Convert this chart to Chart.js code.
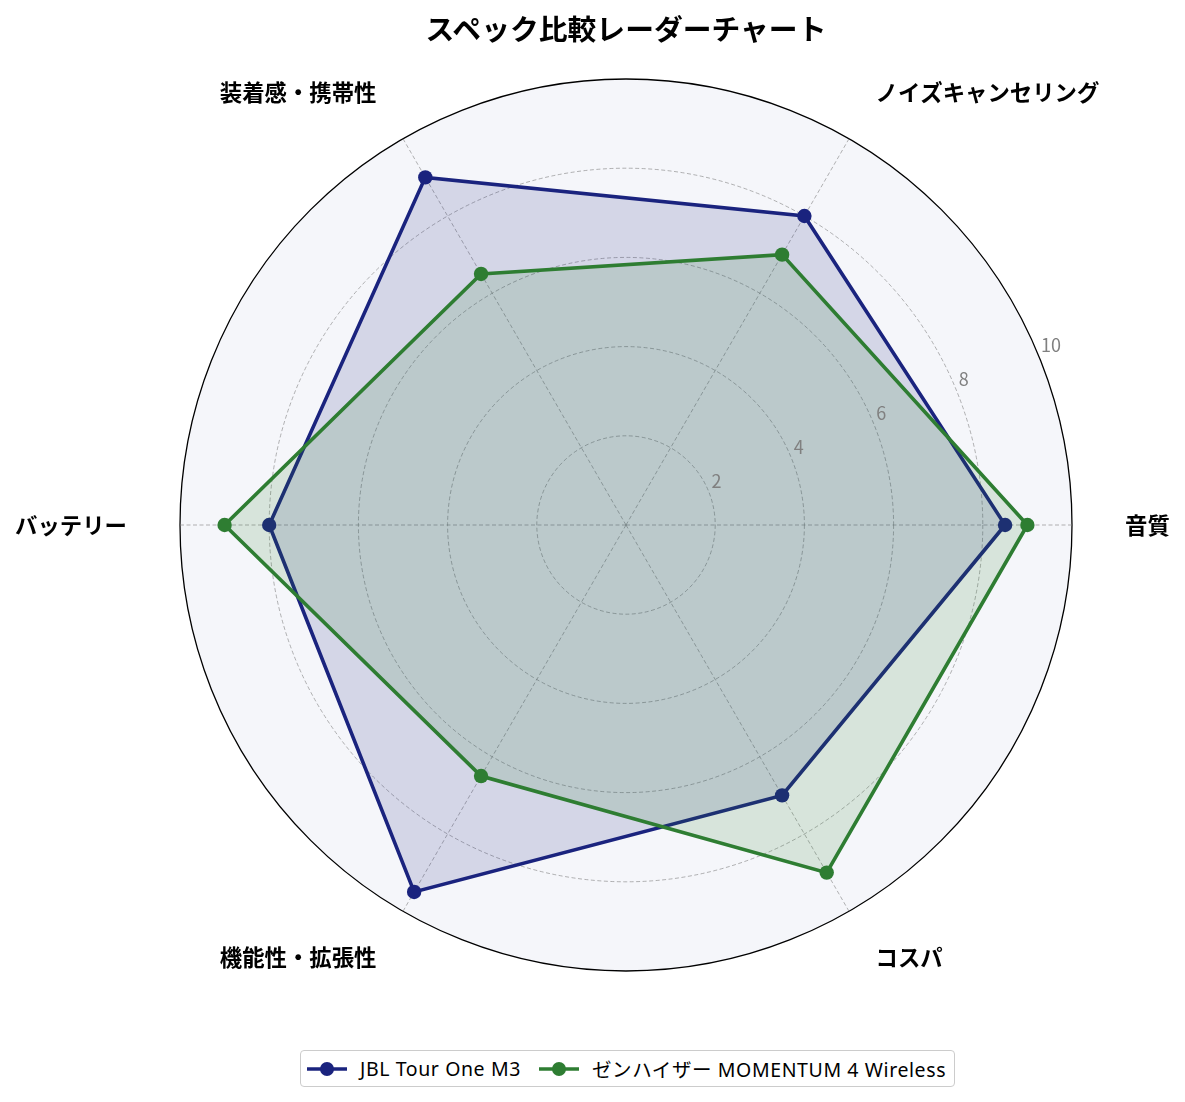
<!DOCTYPE html>
<html lang="ja">
<head>
<meta charset="utf-8">
<title>スペック比較レーダーチャート</title>
<script src="https://cdn.jsdelivr.net/npm/chart.js@4.4.1/dist/chart.umd.min.js"></script>
<style>
  html, body { margin: 0; padding: 0; background: #fff; overflow: hidden; }
  body { width: 1185px; height: 1102px; position: relative; font-family: "Noto Sans CJK JP", "Noto Sans", sans-serif; }
  #chart-wrap { position: absolute; left: 0; top: 0; width: 1185px; height: 1102px; }
  .chart-title {
    position: absolute; left: 626px; top: 8px; transform: translateX(-50%);
    font-size: 28.8px; font-weight: 700; color: #000; white-space: nowrap; line-height: 40px;
  }
  .legend {
    position: absolute; left: 300px; top: 1050px; height: 35px;
    border: 1px solid #cccccc; border-radius: 4px; background: #fff;
    display: flex; align-items: center; padding: 0 8px 0 6px; box-sizing: content-box;
  }
  .legend__item {
    display: flex; align-items: center; margin-right: 18px; font-size: 19.5px; color: #000; white-space: nowrap;
    font-family: "Noto Sans", "Noto Sans CJK JP", sans-serif; letter-spacing: 0.6px;
  }
  .legend__item:last-child { margin-right: 0; }
  .legend__item svg { margin-right: 13px; }
</style>
</head>
<body>
<div id="chart-wrap"><canvas id="chart-radar"></canvas></div>
<div class="chart-title">スペック比較レーダーチャート</div>
<div class="legend" id="legend-root"></div>

<script>
// axes in counter-clockwise order, starting at the right (3 o'clock)
const categories = ["音質", "ノイズキャンセリング", "装着感・携帯性", "バッテリー", "機能性・拡張性", "コスパ"];
const jblScores = [8.5, 8, 9, 8, 9.5, 7];
const sennheiserScores = [9, 7, 6.5, 9, 6.5, 9];
const seriesNames = ["JBL Tour One M3", "ゼンハイザー MOMENTUM 4 Wireless"];
const tickValues = [2, 4, 6, 8, 10];

const BLUE = "#1a237e";
const GREEN = "#2e7d32";
const PLOT_BG = "#f5f6fa";

// Chart.js walks clockwise, so keep the first axis and flip the rest
const clockwise = (arr) => [arr[0], ...arr.slice(1).reverse()];

const polarBackground = {
  id: "polarBackground",
  beforeDraw(chart) {
    const s = chart.scales.r;
    const ctx = chart.ctx;
    ctx.save();
    ctx.fillStyle = PLOT_BG;
    ctx.beginPath();
    ctx.arc(s.xCenter, s.yCenter, s.drawingArea, 0, Math.PI * 2);
    ctx.fill();
    ctx.restore();
  },
};

// matplotlib style labels: horizontal align by side, vertically centred
const axisLabels = {
  id: "axisLabels",
  afterDraw(chart) {
    const s = chart.scales.r;
    const ctx = chart.ctx;
    ctx.save();
    ctx.font = "bold 22.4px 'Noto Sans CJK JP', sans-serif";
    ctx.fillStyle = "#000";
    ctx.textBaseline = "middle";
    chart.data.labels.forEach((label, i) => {
      const p = s.getPointPosition(i, s.drawingArea + 53);
      const dx = p.x - s.xCenter;
      ctx.textAlign = dx > 1 ? "left" : dx < -1 ? "right" : "center";
      ctx.fillText(label, p.x, p.y);
    });

    // radial tick labels along 22.5 degrees
    ctx.font = "18px 'Noto Sans CJK JP', sans-serif";
    ctx.fillStyle = "#808080";
    ctx.textAlign = "left";
    const a = (22.5 * Math.PI) / 180;
    tickValues.forEach((v) => {
      const r = s.getDistanceFromCenterForValue(v);
      const x = s.xCenter + r * Math.cos(a);
      const y = s.yCenter - r * Math.sin(a);
      ctx.fillText(String(v), x + 3, y - 9.5);
    });
    ctx.restore();
  },
};

function renderLegend() {
  const root = document.getElementById("legend-root");
  const colors = [BLUE, GREEN];
  root.innerHTML = seriesNames
    .map(
      (name, i) => `
      <div class="legend__item">
        <svg width="40" height="16" viewBox="0 0 40 16">
          <line x1="0" y1="8" x2="40" y2="8" stroke="${colors[i]}" stroke-width="3.6"/>
          <circle cx="20" cy="8" r="7" fill="${colors[i]}"/>
        </svg>
        <span>${name}</span>
      </div>`
    )
    .join("");
}

function initChart() {
  const ctx = document.getElementById("chart-radar");
  new Chart(ctx, {
    type: "radar",
    data: {
      labels: clockwise(categories),
      datasets: [
        {
          label: seriesNames[0],
          data: clockwise(jblScores),
          borderColor: BLUE,
          backgroundColor: "rgba(26, 35, 126, 0.15)",
          pointBackgroundColor: BLUE,
          pointBorderColor: BLUE,
          borderWidth: 3.6,
          pointRadius: 7.2,
          pointBorderWidth: 0,
          fill: true,
          order: 2,
        },
        {
          label: seriesNames[1],
          data: clockwise(sennheiserScores),
          borderColor: GREEN,
          backgroundColor: "rgba(46, 125, 50, 0.15)",
          pointBackgroundColor: GREEN,
          pointBorderColor: GREEN,
          borderWidth: 3.6,
          pointRadius: 7.2,
          pointBorderWidth: 0,
          fill: true,
          order: 1,
        },
      ],
    },
    options: {
      responsive: true,
      maintainAspectRatio: false,
      animation: false,
      layout: { padding: { left: 180, right: 113, top: 79, bottom: 131 } },
      plugins: { legend: { display: false }, tooltip: { enabled: false } },
      elements: { line: { tension: 0 } },
      scales: {
        r: {
          min: 0,
          max: 10,
          startAngle: 90,
          ticks: { stepSize: 2, display: false },
          pointLabels: { display: false },
          grid: {
            circular: true,
            color: (c) => (c.tick && c.tick.value === 10 ? "#000" : "rgba(128,128,128,0.75)"),
            lineWidth: (c) => (c.tick && c.tick.value === 10 ? 1.3 : 0.8),
          },
          border: {
            dash: (c) => (c.tick && c.tick.value === 10 ? [] : [4, 2.5]),
          },
          angleLines: {
            color: "rgba(128,128,128,0.75)",
            lineWidth: 0.8,
            borderDash: [4, 2.5],
          },
        },
      },
    },
    plugins: [polarBackground, axisLabels],
  });
}

document.addEventListener("DOMContentLoaded", () => {
  renderLegend();
  initChart();
});
</script>
</body>
</html>
